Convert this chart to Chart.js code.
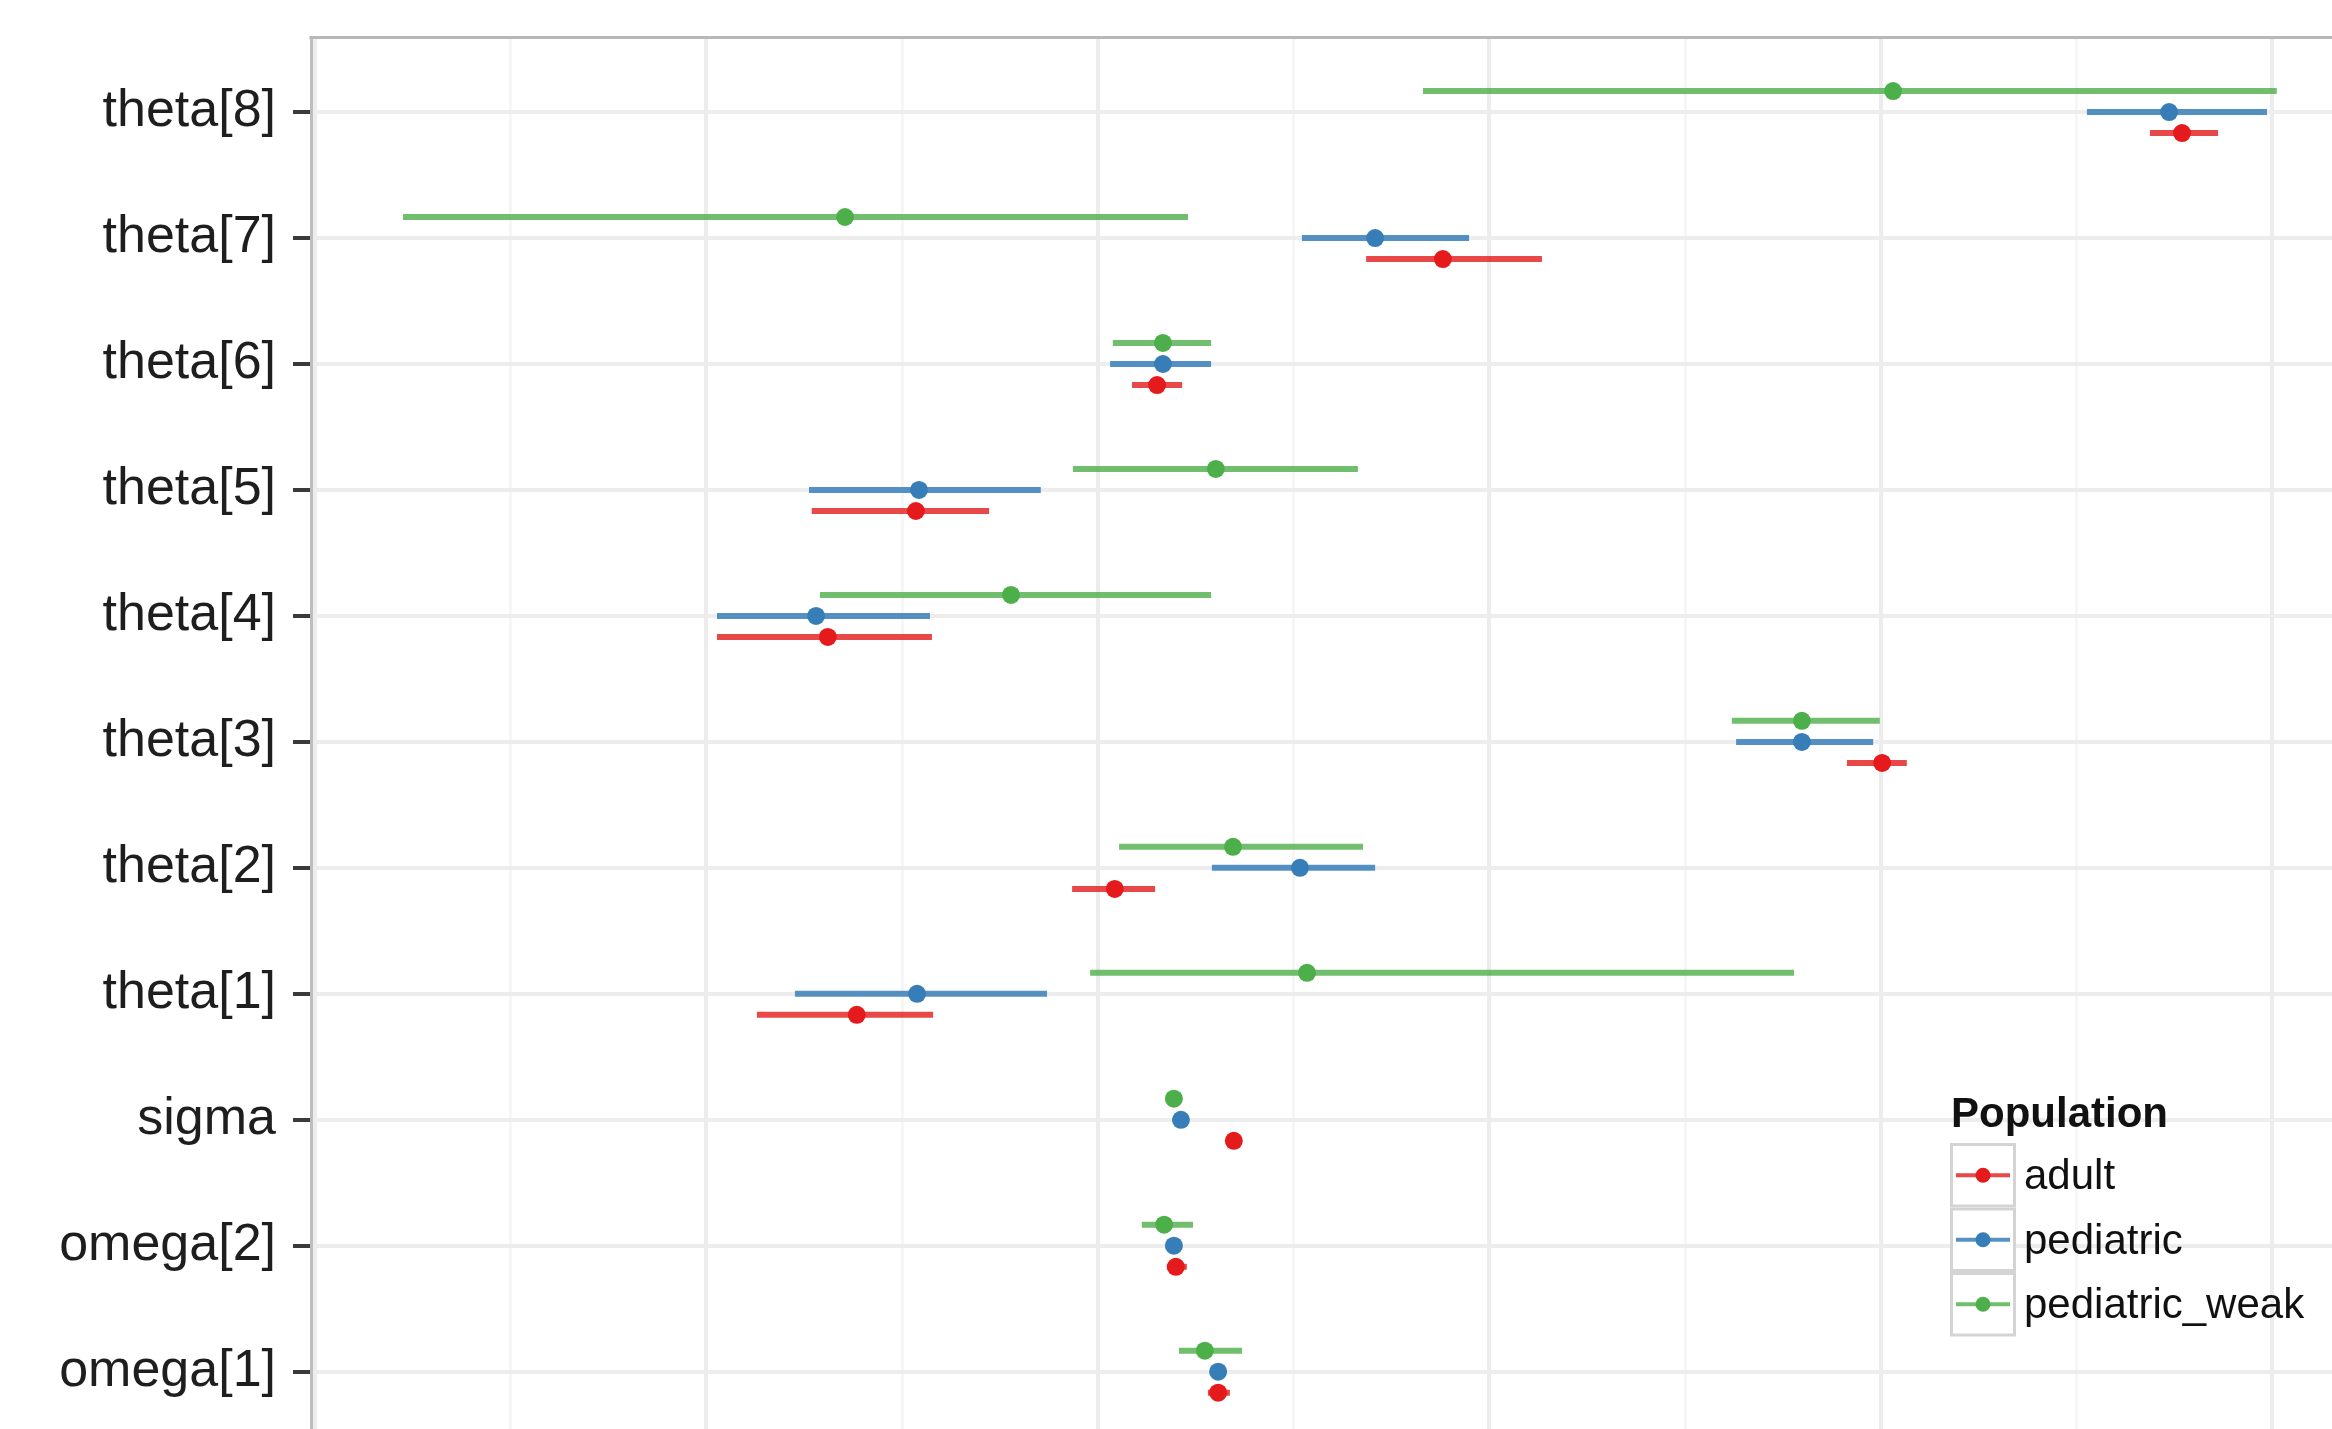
<!DOCTYPE html>
<html>
<head>
<meta charset="utf-8">
<script src="https://cdn.jsdelivr.net/npm/chart.js@4.4.1/dist/chart.umd.min.js"></script>
<style>
  html, body { margin: 0; padding: 0; background: #ffffff; overflow: hidden; }
  #wrap { width: 2332px; height: 1429px; position: relative; }
  canvas { display: block; }
</style>
</head>
<body>
<div id="wrap"><canvas id="forest" width="2332" height="1429"></canvas></div>
<script>
// Model parameters, from the top row to the bottom row
const parameters = ['theta[8]', 'theta[7]', 'theta[6]', 'theta[5]', 'theta[4]', 'theta[3]',
                    'theta[2]', 'theta[1]', 'sigma', 'omega[2]', 'omega[1]'];
const populations = ['adult', 'pediatric', 'pediatric_weak'];

// Estimates with lower / upper interval bounds, one entry per parameter (same order)
const adultEst  = [2.769, 0.881, 0.151, -0.465, -0.690, 2.003,  0.043, -0.616, 0.347, 0.199, 0.307];
const adultLow  = [2.687, 0.685, 0.087, -0.731, -0.973, 1.913, -0.066, -0.871, 0.339, 0.176, 0.281];
const adultHigh = [2.861, 1.134, 0.215, -0.278, -0.424, 2.066,  0.146, -0.421, 0.356, 0.227, 0.337];

const pediatricEst  = [2.736, 0.708, 0.166, -0.457, -0.720, 1.798, 0.516, -0.462, 0.212, 0.194, 0.307];
const pediatricLow  = [2.526, 0.521, 0.031, -0.738, -0.973, 1.630, 0.291, -0.774, 0.205, 0.179, 0.286];
const pediatricHigh = [2.986, 0.948, 0.289, -0.146, -0.429, 1.980, 0.708, -0.130, 0.220, 0.215, 0.327];

const weakEst  = [2.031, -0.646, 0.166,  0.301, -0.222, 1.798, 0.345,  0.534, 0.194, 0.169, 0.273];
const weakLow  = [0.830, -1.775, 0.038, -0.064, -0.710, 1.619, 0.054, -0.020, 0.186, 0.112, 0.207];
const weakHigh = [3.011,  0.230, 0.289,  0.664,  0.289, 1.997, 0.677,  1.778, 0.202, 0.243, 0.368];

// Set1 palette
const colors = { adult: '#E41A1C', pediatric: '#377EB8', pediatric_weak: '#4DAF4A' };
const lineColors = { adult: 'rgba(228,26,28,0.8)', pediatric: 'rgba(55,126,184,0.85)', pediatric_weak: 'rgba(77,175,74,0.8)' };

// vertical dodge between the three populations inside one parameter row
const dodge = { adult: -0.167, pediatric: 0, pediatric_weak: 0.167 };

const rowOf = (i) => parameters.length - i;

const series = [
  { name: populations[0], est: adultEst, low: adultLow, high: adultHigh },
  { name: populations[1], est: pediatricEst, low: pediatricLow, high: pediatricHigh },
  { name: populations[2], est: weakEst, low: weakLow, high: weakHigh }
];

const intervalSets = series.map(s => ({
  type: 'bar',
  label: s.name + ' interval',
  data: parameters.map((p, i) => ({ y: rowOf(i) + dodge[s.name], x: [s.low[i], s.high[i]] })),
  backgroundColor: lineColors[s.name],
  borderWidth: 0,
  grouped: false,
  maxBarThickness: 6,
  order: 2
}));

const pointSets = series.map(s => ({
  type: 'scatter',
  label: s.name,
  data: parameters.map((p, i) => ({ y: rowOf(i) + dodge[s.name], x: s.est[i] })),
  backgroundColor: colors[s.name],
  legendLine: lineColors[s.name],
  pointRadius: 9,
  pointHoverRadius: 9,
  pointBorderWidth: 0,
  showLine: false,
  order: 1
}));

// Panel border along the top edge
const topBorder = {
  id: 'topBorder',
  afterDatasetsDraw(chart) {
    const { ctx, chartArea } = chart;
    ctx.save();
    ctx.strokeStyle = '#b8b8b8';
    ctx.lineWidth = 3;
    ctx.beginPath();
    ctx.moveTo(chartArea.left - 1.5, chartArea.top + 0.5);
    ctx.lineTo(chartArea.right, chartArea.top + 0.5);
    ctx.stroke();
    ctx.restore();
  }
};

// Legend with boxed keys: a line through a point for each population
const populationLegend = {
  id: 'populationLegend',
  afterDraw(chart, args, opts) {
    const ctx = chart.ctx;
    const sets = chart.data.datasets.filter(d => d.type === 'scatter');
    ctx.save();
    ctx.fillStyle = '#111111';
    ctx.textAlign = 'left';
    ctx.textBaseline = 'alphabetic';
    ctx.font = 'bold 42px "Liberation Sans", Arial, sans-serif';
    ctx.fillText(opts.title, opts.left + 1, opts.titleBaseline);
    sets.forEach((ds, i) => {
      const top = opts.keyTop + i * opts.keyH;
      const cy = top + opts.keyH / 2;
      ctx.fillStyle = '#ffffff';
      ctx.fillRect(opts.left, top, opts.keyW, opts.keyH);
      ctx.strokeStyle = '#d4d4d4';
      ctx.lineWidth = 3;
      ctx.strokeRect(opts.left + 1.5, top + 1.5, opts.keyW - 3, opts.keyH - 3);
      ctx.strokeStyle = ds.legendLine;
      ctx.lineWidth = 4;
      ctx.beginPath();
      ctx.moveTo(opts.left + 6, cy);
      ctx.lineTo(opts.left + opts.keyW - 6, cy);
      ctx.stroke();
      ctx.fillStyle = ds.backgroundColor;
      ctx.beginPath();
      ctx.arc(opts.left + opts.keyW / 2, cy, 7.5, 0, Math.PI * 2);
      ctx.fill();
      ctx.fillStyle = '#111111';
      ctx.font = '42px "Liberation Sans", Arial, sans-serif';
      ctx.fillText(ds.label, opts.textX, cy + 14);
    });
    ctx.restore();
  }
};

new Chart(document.getElementById('forest'), {
  type: 'bar',
  data: { datasets: [...pointSets, ...intervalSets] },
  options: {
    responsive: false,
    animation: false,
    devicePixelRatio: 1,
    indexAxis: 'y',
    layout: { autoPadding: false, padding: { top: 37, left: 0, right: 0, bottom: 0 } },
    plugins: {
      legend: { display: false },
      tooltip: { enabled: false },
      populationLegend: {
        title: 'Population',
        left: 1950, titleBaseline: 1127,
        keyTop: 1143, keyW: 66, keyH: 64.5, textX: 2024
      }
    },
    scales: {
      x: {
        type: 'linear',
        min: -2.010,
        max: 3.152,
        stacked: false,
        offset: false,
        ticks: { display: false, stepSize: 0.5, includeBounds: false },
        grid: {
          drawTicks: false,
          offset: false,
          color: (c) => (c.tick && Math.abs(c.tick.value - Math.round(c.tick.value)) < 1e-6) ? '#ececec' : '#f6f6f6',
          lineWidth: (c) => (c.tick && Math.abs(c.tick.value - Math.round(c.tick.value)) < 1e-6) ? 4 : 3
        },
        border: { display: false },
        afterFit(scale) {
          scale.height = 0;
          scale.paddingLeft = 0; scale.paddingRight = 0;
          scale.paddingTop = 0; scale.paddingBottom = 0;
        }
      },
      y: {
        type: 'linear',
        min: 0.545,
        max: 11.596,
        stacked: false,
        offset: false,
        afterBuildTicks(scale) {
          scale.ticks = parameters.map((p, i) => ({ value: rowOf(i) }));
        },
        ticks: {
          autoSkip: false,
          padding: 17,
          color: '#1e1e1e',
          font: { family: '"Liberation Sans", Arial, sans-serif', size: 52 },
          callback: (value) => parameters[parameters.length - value]
        },
        grid: {
          offset: false,
          color: '#ededed',
          lineWidth: 4,
          tickLength: 18,
          tickColor: '#3a3a3a',
          tickWidth: 4
        },
        border: { display: true, color: '#bdbdbd', width: 3 },
        afterFit(scale) {
          scale.width = 311;
          scale.paddingTop = 0; scale.paddingBottom = 0;
          scale.paddingLeft = 0; scale.paddingRight = 0;
        }
      }
    }
  },
  plugins: [topBorder, populationLegend]
});
</script>
</body>
</html>
